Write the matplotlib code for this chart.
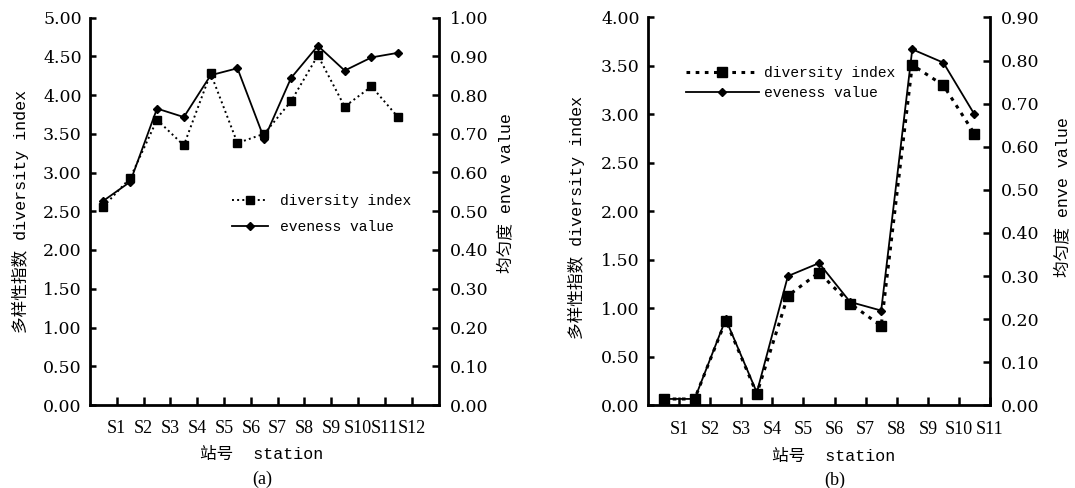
import numpy as np
import matplotlib.pyplot as plt

# ---- data ----
stations_a = ['S1', 'S2', 'S3', 'S4', 'S5', 'S6', 'S7', 'S8', 'S9', 'S10', 'S11', 'S12']
diversity_a = [2.56, 2.93, 3.68, 3.35, 4.28, 3.38, 3.50, 3.92, 4.51, 3.85, 4.11, 3.71]
evenness_a = [0.527, 0.576, 0.765, 0.743, 0.851, 0.869, 0.687, 0.844, 0.927, 0.863, 0.897, 0.909]

stations_b = ['S1', 'S2', 'S3', 'S4', 'S5', 'S6', 'S7', 'S8', 'S9', 'S10', 'S11']
diversity_b = [0.066, 0.066, 0.875, 0.12, 1.13, 1.37, 1.05, 0.82, 3.51, 3.30, 2.80]
evenness_b = [0.015, 0.015, 0.20, 0.03, 0.30, 0.33, 0.24, 0.22, 0.826, 0.795, 0.675]

W, H = 1075, 488
fig = plt.figure(figsize=(W / 100, H / 100), dpi=100)

mono = ['Liberation Mono', 'Noto Sans CJK SC']
num_font = 'DejaVu Serif'
cat_font = 'Liberation Serif'


def px(x, y):
    # pixel (from top-left) -> figure fraction
    return x / W, 1 - y / H


def panel(rect, stations, div, eve, ymax_l, ymax_r, nslots, div_style, div_lw, sq_size):
    ax = fig.add_axes(rect)
    ax2 = ax.twinx()
    xpos = np.arange(len(div)) + 0.5

    l1, = ax.plot(xpos, div, color='black', linestyle=div_style, linewidth=div_lw,
                  marker='s', markersize=sq_size, label='diversity index')
    l2, = ax2.plot(xpos, eve, color='black', linestyle='-', linewidth=1.3,
                   marker='D', markersize=4.5, label='eveness value')

    ax.set_xlim(0, nslots)
    ax.set_xticks(np.arange(1, len(stations) + 1))
    ax.set_xticklabels(stations, fontfamily=cat_font, fontsize=13)
    ax.tick_params(axis='x', direction='in', length=6, width=1.8, pad=11)

    ax.set_ylim(0, ymax_l)
    ax.set_yticks(np.arange(0, ymax_l + 0.01, 0.5))
    ax.set_yticklabels(['%.2f' % v for v in np.arange(0, ymax_l + 0.01, 0.5)],
                       fontfamily=num_font, fontsize=12.5)
    ax.tick_params(axis='y', direction='in', length=4, width=1.8, pad=6)

    ax2.set_ylim(0, ymax_r)
    rt = np.arange(0, ymax_r + 0.001, 0.1)
    ax2.set_yticks(rt)
    ax2.set_yticklabels(['%.2f' % v for v in rt], fontfamily=num_font, fontsize=12.5)
    ax2.tick_params(axis='y', direction='in', length=5, width=1.8, pad=8)

    for a in (ax, ax2):
        a.spines['top'].set_visible(False)
        for s in ('left', 'right', 'bottom'):
            a.spines[s].set_linewidth(2)
    ax.spines['right'].set_visible(False)
    ax2.spines['left'].set_visible(False)
    ax2.spines['bottom'].set_visible(False)
    return ax, ax2, l1, l2


# panel (a)
axa, axa2, la1, la2 = panel([90 / W, 1 - 405 / H, 348.5 / W, 387.5 / H],
                            stations_a, diversity_a, evenness_a, 5.0, 1.0, 13,
                            ':', 1.4, 6)
# panel (b)
axb, axb2, lb1, lb2 = panel([648 / W, 1 - 405.4 / H, 342 / W, 388 / H],
                            stations_b, diversity_b, evenness_b, 4.0, 0.9, 11,
                            (0, (1.2, 1.8)), 2.2, 7)

# legends
fig.legend([la1, la2], ['diversity index', 'eveness value'], loc='upper left',
           bbox_to_anchor=px(232, 194), frameon=False, prop={'family': mono, 'size': 10.5},
           handlelength=2.5, handletextpad=0.8, labelspacing=0.8, borderpad=0, borderaxespad=0)
fig.legend([lb1, lb2], ['diversity index', 'eveness value'], loc='upper left',
           bbox_to_anchor=px(686, 66), frameon=False, prop={'family': mono, 'size': 10.5},
           handlelength=5, handletextpad=0.35, labelspacing=0.4, borderpad=0, borderaxespad=0)

# axis titles
lab = dict(family=mono, size=12, ha='center', va='center')
fig.text(*px(20, 211), '多样性指数 diversity index', rotation=90, **lab)
fig.text(*px(505, 193), '均匀度 enve value', rotation=90, **lab)
fig.text(*px(576, 217), '多样性指数 diversity index', rotation=90, **lab)
fig.text(*px(1062, 197), '均匀度 enve value', rotation=90, **lab)
fig.text(*px(262, 454), '站号  station', **lab)
fig.text(*px(834, 456), '站号  station', **lab)
fig.text(*px(262, 479), '(a)', family='Liberation Serif', size=13, ha='center', va='center')
fig.text(*px(835, 480), '(b)', family='Liberation Serif', size=13, ha='center', va='center')

fig.savefig('out.png', dpi=100)
